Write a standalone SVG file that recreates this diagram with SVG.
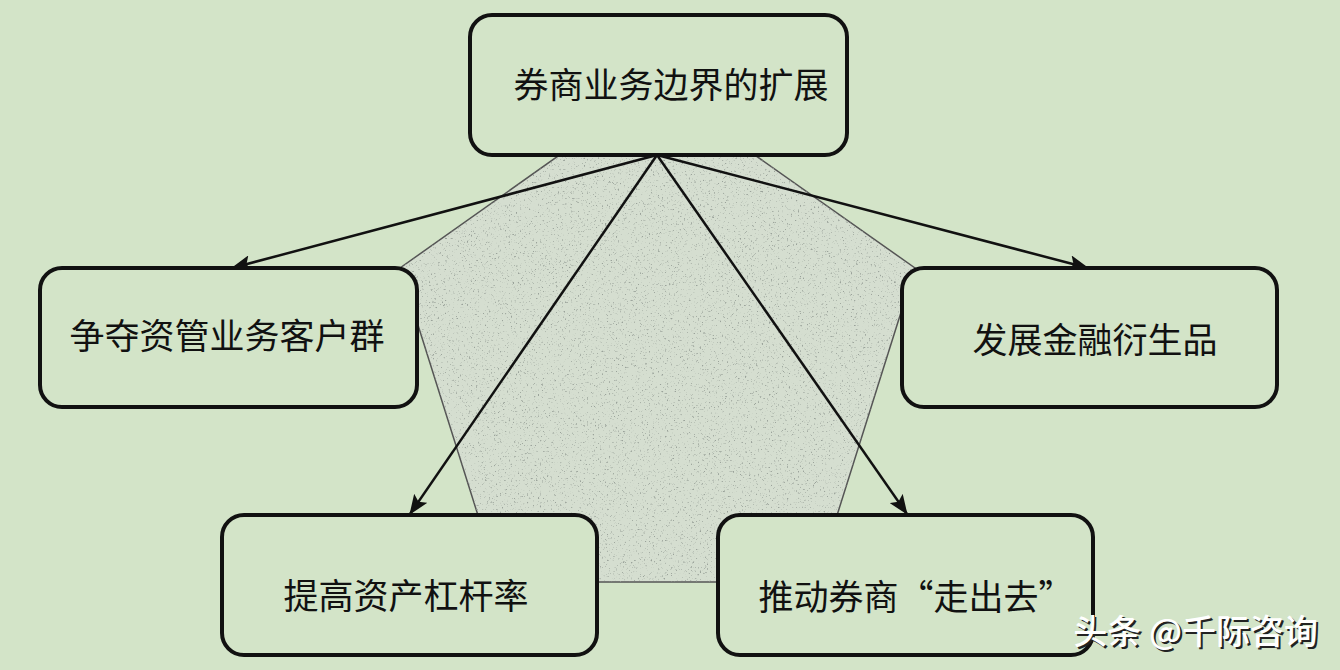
<svg xmlns="http://www.w3.org/2000/svg" width="1340" height="670" viewBox="0 0 1340 670">
  <defs>
    <style>
      .box { fill: #d3e4c8; stroke: #111; stroke-width: 4; }
      .lbl { font-family: "Noto Sans CJK SC", "Noto Sans", sans-serif; font-size: 35px; fill: #111; text-anchor: middle; }
      .edge { stroke: #111; stroke-width: 2.5; fill: none; marker-end: url(#arrow); }
      .wm { font-family: "Noto Sans CJK SC", sans-serif; font-size: 34px; font-weight: 500; text-anchor: end; }
    </style>
    <marker id="arrow" markerUnits="userSpaceOnUse" markerWidth="20" markerHeight="16" refX="19" refY="8" orient="auto">
      <path d="M0,0 L20,8 L0,16 L4,8 z" fill="#111"/>
    </marker>
    <filter id="speck" filterUnits="userSpaceOnUse" x="390" y="80" width="540" height="510">
      <feTurbulence type="fractalNoise" baseFrequency="0.55" numOctaves="3" seed="7"/>
      <feColorMatrix type="matrix" values="0 0 0 0 0.32  0 0 0 0 0.36  0 0 0 0 0.32  5 0 0 0 -3.1"/>
      <feComposite in2="SourceGraphic" operator="in"/>
    </filter>
  </defs>

  <rect x="0" y="0" width="1340" height="670" fill="#d3e4c8"/>

  <g id="pentagon">
    <polygon points="657,86 915,268 816,582 499,582 400,268" fill="#d5ded0" stroke="#555" stroke-width="1.5"/>
    <polygon points="657,86 915,268 816,582 499,582 400,268" fill="#000" filter="url(#speck)"/>
  </g>

  <g id="connectors">
    <line class="edge" x1="657" y1="155" x2="232" y2="268"/>
    <line class="edge" x1="657" y1="155" x2="410" y2="514"/>
    <line class="edge" x1="657" y1="155" x2="907" y2="514"/>
    <line class="edge" x1="657" y1="155" x2="1088" y2="268"/>
  </g>

  <g id="node-top">
    <rect class="box" x="470" y="15" width="377" height="140" rx="22"/>
    <text class="lbl" x="671" y="98">券商业务边界的扩展</text>
  </g>
  <g id="node-left">
    <rect class="box" x="40" y="268" width="377" height="139" rx="22"/>
    <text class="lbl" x="227" y="349">争夺资管业务客户群</text>
  </g>
  <g id="node-right">
    <rect class="box" x="902" y="268" width="375" height="139" rx="22"/>
    <text class="lbl" x="1095" y="353">发展金融衍生品</text>
  </g>
  <g id="node-bottom-left">
    <rect class="box" x="222" y="515" width="375" height="140" rx="22"/>
    <text class="lbl" x="406" y="609">提高资产杠杆率</text>
  </g>
  <g id="node-bottom-right">
    <rect class="box" x="718" y="515" width="375" height="140" rx="22"/>
    <text class="lbl" x="916" y="610">推动券商“走出去”</text>
  </g>

  <g id="watermark">
    <text class="wm" x="1320" y="646" fill="#222">头条 @千际咨询</text>
    <text class="wm" x="1318" y="644" fill="#fff">头条 @千际咨询</text>
  </g>
</svg>
